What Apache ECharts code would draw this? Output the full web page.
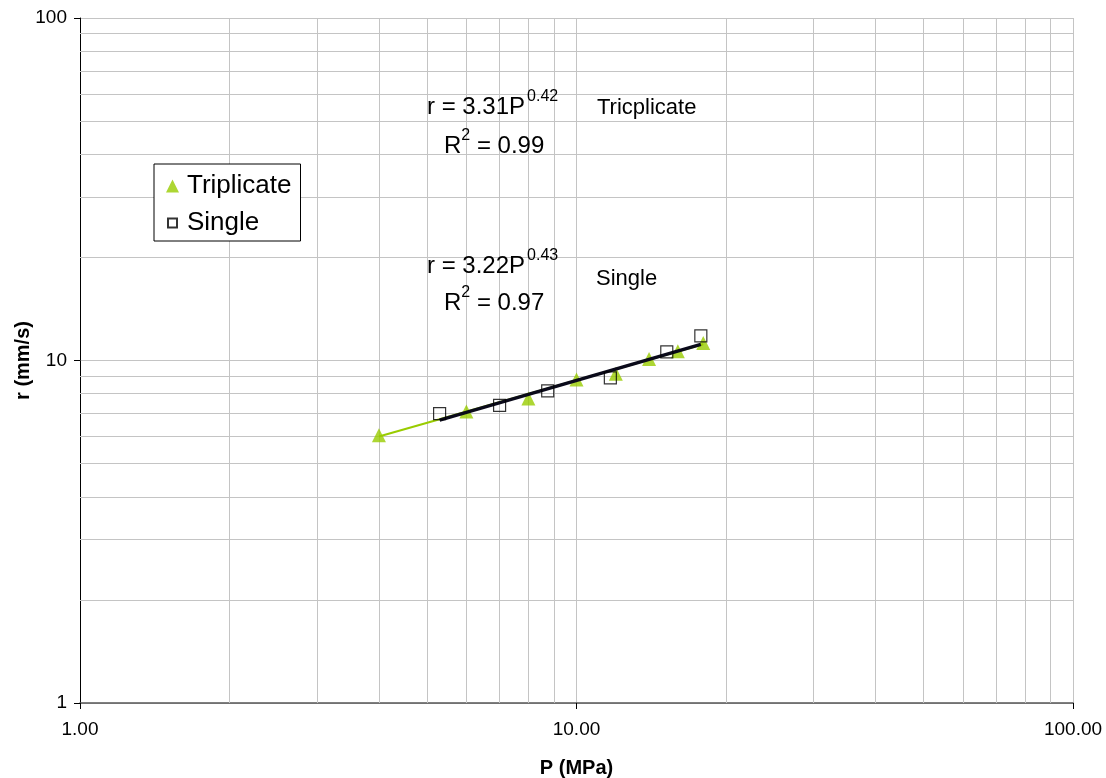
<!DOCTYPE html>
<html>
<head>
<meta charset="utf-8">
<script src="https://cdn.jsdelivr.net/npm/echarts@6/dist/echarts.min.js"></script>
<style>
  html, body { margin: 0; padding: 0; background: #fff; }
  #graph { width: 1106px; height: 778px; }
</style>
</head>
<body>
<div id="graph"></div>
<script>
// values
const pressureTrip = [4.0, 6.0, 8.0, 10.0, 12.0, 14.0, 16.0, 18.0]
const rateTrip = [6.05, 7.1, 7.75, 8.8, 9.15, 10.1, 10.65, 11.25]
const pressureSingle = [5.3, 7.0, 8.75, 11.7, 15.2, 17.8]
const rateSingle = [7.0, 7.4, 8.15, 8.9, 10.6, 11.8]

// trendline end points
const tripFitP = [4.0, 18.0]
const tripFitR = [6.0, 11.15]
const singleFitP = [5.3, 17.8]
const singleFitR = [6.7, 11.15]

// minor log gridlines
const minorX = [2, 3, 4, 5, 6, 7, 8, 9, 20, 30, 40, 50, 60, 70, 80, 90]
const minorY = [2, 3, 4, 5, 6, 7, 8, 9, 20, 30, 40, 50, 60, 70, 80, 90]

const FONT = 'Liberation Sans, Arial, sans-serif'
const GRID_COLOR = '#c4c4c4'

const zip = (xs, ys) => xs.map((x, i) => [x, ys[i]])

const minorLines = minorX.map(v => ({ xAxis: v })).concat(minorY.map(v => ({ yAxis: v })))

// small hollow square inside a 13x13 box for the legend
const smallSquare = 'path://M-2,-2 M11,11 M0,0 L9,0 L9,9 L0,9 Z'

const formula = (main, sup) => ({
  text: '{b|' + main + '}{s|' + sup + '}',
  fill: '#000',
  rich: {
    b: { fontSize: 24, fontFamily: FONT, lineHeight: 30, verticalAlign: 'bottom' },
    s: { fontSize: 16, fontFamily: FONT, verticalAlign: 'top', padding: [0, 0, 0, 2] }
  }
})

const rsq = (val) => ({
  text: '{b|R}{s|2}{b| = ' + val + '}',
  fill: '#000',
  rich: {
    b: { fontSize: 24, fontFamily: FONT, lineHeight: 30, verticalAlign: 'bottom' },
    s: { fontSize: 16, fontFamily: FONT, verticalAlign: 'top' }
  }
})

const myChart = echarts.init(document.getElementById('graph'))

myChart.setOption({
  animation: false,
  textStyle: { fontFamily: FONT },
  grid: { left: 80, right: 33, top: 18, bottom: 75, outerBoundsMode: 'none', containLabel: false },
  xAxis: {
    type: 'log',
    logBase: 10,
    min: 1,
    max: 100,
    name: 'P (MPa)',
    nameLocation: 'middle',
    nameGap: 55,
    nameMoveOverlap: false,
    nameTextStyle: { fontSize: 20, fontWeight: 'bold', color: '#000', fontFamily: FONT },
    axisLine: { show: true, lineStyle: { color: '#555', width: 1.5 } },
    axisTick: { show: true, length: 6, lineStyle: { color: '#000' } },
    axisLabel: {
      fontSize: 19, color: '#000', margin: 17,
      formatter: v => Number(v).toFixed(2)
    },
    splitLine: { show: true, lineStyle: { color: GRID_COLOR, width: 1 } }
  },
  yAxis: {
    type: 'log',
    logBase: 10,
    min: 1,
    max: 100,
    name: 'r (mm/s)',
    nameLocation: 'middle',
    nameRotate: 90,
    nameGap: 47,
    nameMoveOverlap: false,
    nameTextStyle: { fontSize: 20, fontWeight: 'bold', color: '#000', fontFamily: FONT },
    axisLine: { show: true, lineStyle: { color: '#000', width: 1 } },
    axisTick: { show: true, length: 6, lineStyle: { color: '#000' } },
    axisLabel: { fontSize: 19, color: '#000', margin: 13 },
    splitLine: { show: true, lineStyle: { color: GRID_COLOR, width: 1 } }
  },
  legend: {
    orient: 'vertical',
    left: 154,
    top: 164,
    padding: [9, 9, 5, 11],
    itemGap: 11,
    itemWidth: 13,
    itemHeight: 13,
    backgroundColor: '#fff',
    borderColor: '#000',
    borderWidth: 1,
    borderRadius: 0,
    textStyle: { fontSize: 26, color: '#000', fontFamily: FONT, padding: [0, 0, 0, 3] },
    data: [
      { name: 'Triplicate', icon: 'triangle' },
      { name: 'Single', icon: smallSquare }
    ]
  },
  series: [
    {
      name: 'Triplicate fit',
      type: 'line',
      data: zip(tripFitP, tripFitR),
      showSymbol: false,
      symbol: 'none',
      lineStyle: { color: '#99cc00', width: 2 },
      silent: true,
      z: 2,
      markLine: {
        silent: true,
        symbol: 'none',
        label: { show: false },
        lineStyle: { color: GRID_COLOR, width: 1, type: 'solid' },
        data: minorLines,
        z: 1
      }
    },
    {
      name: 'Triplicate',
      type: 'scatter',
      data: zip(pressureTrip, rateTrip),
      symbol: 'triangle',
      symbolSize: 14,
      itemStyle: { color: '#99cc00' },
      z: 3
    },
    {
      name: 'Single fit',
      type: 'line',
      data: zip(singleFitP, singleFitR),
      showSymbol: false,
      symbol: 'none',
      lineStyle: { color: '#0a0a1a', width: 3.5 },
      silent: true,
      z: 4
    },
    {
      name: 'Single',
      type: 'scatter',
      data: zip(pressureSingle, rateSingle),
      symbol: 'rect',
      symbolSize: 12,
      itemStyle: { color: 'rgba(255,255,255,0)', borderColor: '#000', borderWidth: 1.2 },
      z: 5
    }
  ],
  graphic: [
    { type: 'text', left: 427, top: 89, z: 10, style: formula('r = 3.31P', '0.42') },
    { type: 'text', left: 444, top: 128, z: 10, style: rsq('0.99') },
    {
      type: 'text', left: 597, top: 97, z: 10,
      style: { text: 'Tricplicate', fontSize: 22, fontFamily: FONT, fill: '#000' }
    },
    { type: 'text', left: 427, top: 248, z: 10, style: formula('r = 3.22P', '0.43') },
    { type: 'text', left: 444, top: 285, z: 10, style: rsq('0.97') },
    {
      type: 'text', left: 596, top: 268, z: 10,
      style: { text: 'Single', fontSize: 22, fontFamily: FONT, fill: '#000' }
    }
  ]
})
</script>
</body>
</html>
